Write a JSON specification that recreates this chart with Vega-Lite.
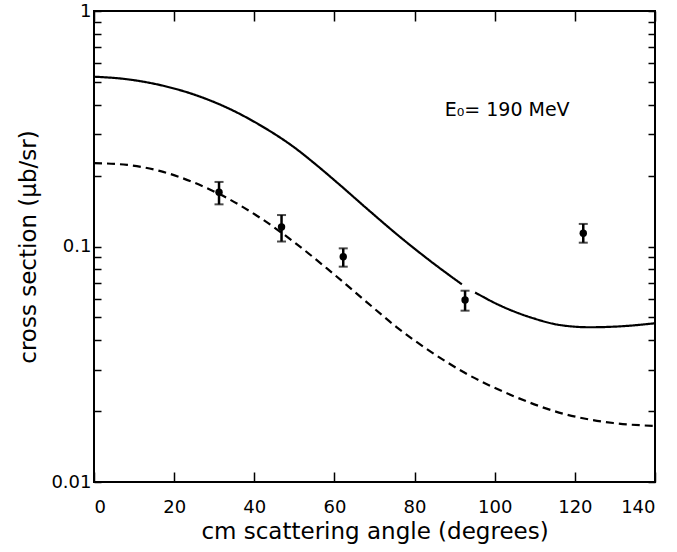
{
  "$schema": "https://vega.github.io/schema/vega-lite/v6.json",
  "width": 561,
  "height": 471,
  "autosize": {"type": "none"},
  "padding": {"left": 94, "top": 11, "right": 22, "bottom": 70},
  "background": "white",
  "config": {
    "view": {"stroke": "black", "strokeWidth": 2},
    "font": "DejaVu Sans",
    "axis": {
      "domain": false,
      "grid": false,
      "tickColor": "black",
      "tickWidth": 1.5,
      "labelColor": "black",
      "titleColor": "black",
      "labelFont": "DejaVu Sans",
      "titleFont": "DejaVu Sans",
      "labelFontWeight": "normal",
      "titleFontWeight": "normal"
    }
  },
  "datasets": {
    "curves": [
      {"angle": 0, "value": 0.526, "series": "solid a", "style": "solid"},
      {"angle": 8.3, "value": 0.513, "series": "solid a", "style": "solid"},
      {"angle": 16.6, "value": 0.4844, "series": "solid a", "style": "solid"},
      {"angle": 25.0, "value": 0.4416, "series": "solid a", "style": "solid"},
      {"angle": 33.3, "value": 0.3878, "series": "solid a", "style": "solid"},
      {"angle": 41.6, "value": 0.3264, "series": "solid a", "style": "solid"},
      {"angle": 49.9, "value": 0.2641, "series": "solid a", "style": "solid"},
      {"angle": 55.5, "value": 0.2219, "series": "solid a", "style": "solid"},
      {"angle": 61.4, "value": 0.1823, "series": "solid a", "style": "solid"},
      {"angle": 68.1, "value": 0.1448, "series": "solid a", "style": "solid"},
      {"angle": 76.4, "value": 0.1097, "series": "solid a", "style": "solid"},
      {"angle": 84.7, "value": 0.0848, "series": "solid a", "style": "solid"},
      {"angle": 91.8, "value": 0.0691, "series": "solid a", "style": "solid"},
      {"angle": 95.1, "value": 0.0638, "series": "solid b", "style": "solid"},
      {"angle": 101.3, "value": 0.0562, "series": "solid b", "style": "solid"},
      {"angle": 109.6, "value": 0.0496, "series": "solid b", "style": "solid"},
      {"angle": 116.3, "value": 0.0464, "series": "solid b", "style": "solid"},
      {"angle": 123.8, "value": 0.0454, "series": "solid b", "style": "solid"},
      {"angle": 132.1, "value": 0.0459, "series": "solid b", "style": "solid"},
      {"angle": 140, "value": 0.0472, "series": "solid b", "style": "solid"},
      {"angle": 0, "value": 0.226, "series": "dashed", "style": "dashed"},
      {"angle": 8.3, "value": 0.2221, "series": "dashed", "style": "dashed"},
      {"angle": 16.6, "value": 0.2089, "series": "dashed", "style": "dashed"},
      {"angle": 25.0, "value": 0.1867, "series": "dashed", "style": "dashed"},
      {"angle": 33.3, "value": 0.1603, "series": "dashed", "style": "dashed"},
      {"angle": 41.6, "value": 0.1319, "series": "dashed", "style": "dashed"},
      {"angle": 49.9, "value": 0.1045, "series": "dashed", "style": "dashed"},
      {"angle": 58.2, "value": 0.0805, "series": "dashed", "style": "dashed"},
      {"angle": 68.2, "value": 0.0578, "series": "dashed", "style": "dashed"},
      {"angle": 75.5, "value": 0.0455, "series": "dashed", "style": "dashed"},
      {"angle": 84, "value": 0.0358, "series": "dashed", "style": "dashed"},
      {"angle": 92.2, "value": 0.0293, "series": "dashed", "style": "dashed"},
      {"angle": 104.6, "value": 0.0232, "series": "dashed", "style": "dashed"},
      {"angle": 117.1, "value": 0.0195, "series": "dashed", "style": "dashed"},
      {"angle": 129.6, "value": 0.0178, "series": "dashed", "style": "dashed"},
      {"angle": 140, "value": 0.0173, "series": "dashed", "style": "dashed"}
    ],
    "points": [
      {"angle": 31.2, "value": 0.170, "lo": 0.151, "hi": 0.188},
      {"angle": 46.8, "value": 0.121, "lo": 0.105, "hi": 0.136},
      {"angle": 62.2, "value": 0.0905, "lo": 0.0821, "hi": 0.0982},
      {"angle": 92.6, "value": 0.0593, "lo": 0.0534, "hi": 0.0649},
      {"angle": 122.1, "value": 0.1138, "lo": 0.1038, "hi": 0.1247}
    ],
    "label": [
      {"angle": 87.5, "value": 0.38, "text": "E₀= 190 MeV"}
    ]
  },
  "resolve": {"axis": {"x": "independent", "y": "independent"}},
  "layer": [
    {
      "data": {"name": "curves"},
      "mark": {"type": "line", "color": "black", "strokeWidth": 2.2, "clip": true, "interpolate": "monotone"},
      "encoding": {
        "x": {
          "field": "angle", "type": "quantitative",
          "scale": {"domain": [0, 140], "nice": false, "zero": false},
          "axis": {
            "orient": "bottom",
            "values": [0, 20, 40, 60, 80, 100, 120, 140],
            "tickSize": -10,
            "labelPadding": 26,
            "labelFontSize": 18,
            "title": "cm scattering angle (degrees)",
            "titleFontSize": 23,
            "titlePadding": 4
          }
        },
        "y": {
          "field": "value", "type": "quantitative",
          "scale": {"type": "log", "domain": [0.01, 1], "nice": false},
          "axis": {
            "orient": "left",
            "values": [0.01, 0.02, 0.03, 0.04, 0.05, 0.06, 0.07, 0.08, 0.09, 0.1, 0.2, 0.3, 0.4, 0.5, 0.6, 0.7, 0.8, 0.9, 1],
            "labelExpr": "datum.value == 1 ? '1' : (abs(datum.value - 0.1) < 1e-9 ? '0.1' : (abs(datum.value - 0.01) < 1e-9 ? '0.01' : ''))",
            "tickSize": -7,
            "labelPadding": 10,
            "labelFontSize": 18,
            "title": "cross section (μb/sr)",
            "titleFontSize": 23,
            "titlePadding": 10
          }
        },
        "detail": {"field": "series"},
        "strokeDash": {
          "field": "style", "type": "nominal",
          "scale": {"domain": ["solid", "dashed"], "range": [[1, 0], [8, 5]]},
          "legend": null
        }
      }
    },
    {
      "data": {"name": "points"},
      "mark": {"type": "rule", "color": "black", "strokeWidth": 2.5},
      "encoding": {
        "x": {
          "field": "angle", "type": "quantitative",
          "axis": {"orient": "top", "values": [0, 20, 40, 60, 80, 100, 120, 140], "tickSize": -10, "labels": false, "title": null}
        },
        "y": {
          "field": "lo", "type": "quantitative",
          "axis": {"orient": "right", "values": [0.01, 0.02, 0.03, 0.04, 0.05, 0.06, 0.07, 0.08, 0.09, 0.1, 0.2, 0.3, 0.4, 0.5, 0.6, 0.7, 0.8, 0.9, 1], "tickSize": -7, "labels": false, "title": null}
        },
        "y2": {"field": "hi"}
      }
    },
    {
      "data": {"name": "points"},
      "mark": {"type": "tick", "orient": "horizontal", "color": "black", "size": 9, "thickness": 2},
      "encoding": {
        "x": {"field": "angle", "type": "quantitative", "axis": null},
        "y": {"field": "lo", "type": "quantitative", "axis": null}
      }
    },
    {
      "data": {"name": "points"},
      "mark": {"type": "tick", "orient": "horizontal", "color": "black", "size": 9, "thickness": 2},
      "encoding": {
        "x": {"field": "angle", "type": "quantitative", "axis": null},
        "y": {"field": "hi", "type": "quantitative", "axis": null}
      }
    },
    {
      "data": {"name": "points"},
      "mark": {"type": "point", "filled": true, "color": "black", "size": 55, "opacity": 1},
      "encoding": {
        "x": {"field": "angle", "type": "quantitative", "axis": null},
        "y": {"field": "value", "type": "quantitative", "axis": null}
      }
    },
    {
      "data": {"name": "label"},
      "mark": {"type": "text", "align": "left", "baseline": "middle", "fontSize": 19, "font": "DejaVu Sans", "color": "black"},
      "encoding": {
        "x": {"field": "angle", "type": "quantitative", "axis": null},
        "y": {"field": "value", "type": "quantitative", "axis": null},
        "text": {"field": "text"}
      }
    }
  ]
}
